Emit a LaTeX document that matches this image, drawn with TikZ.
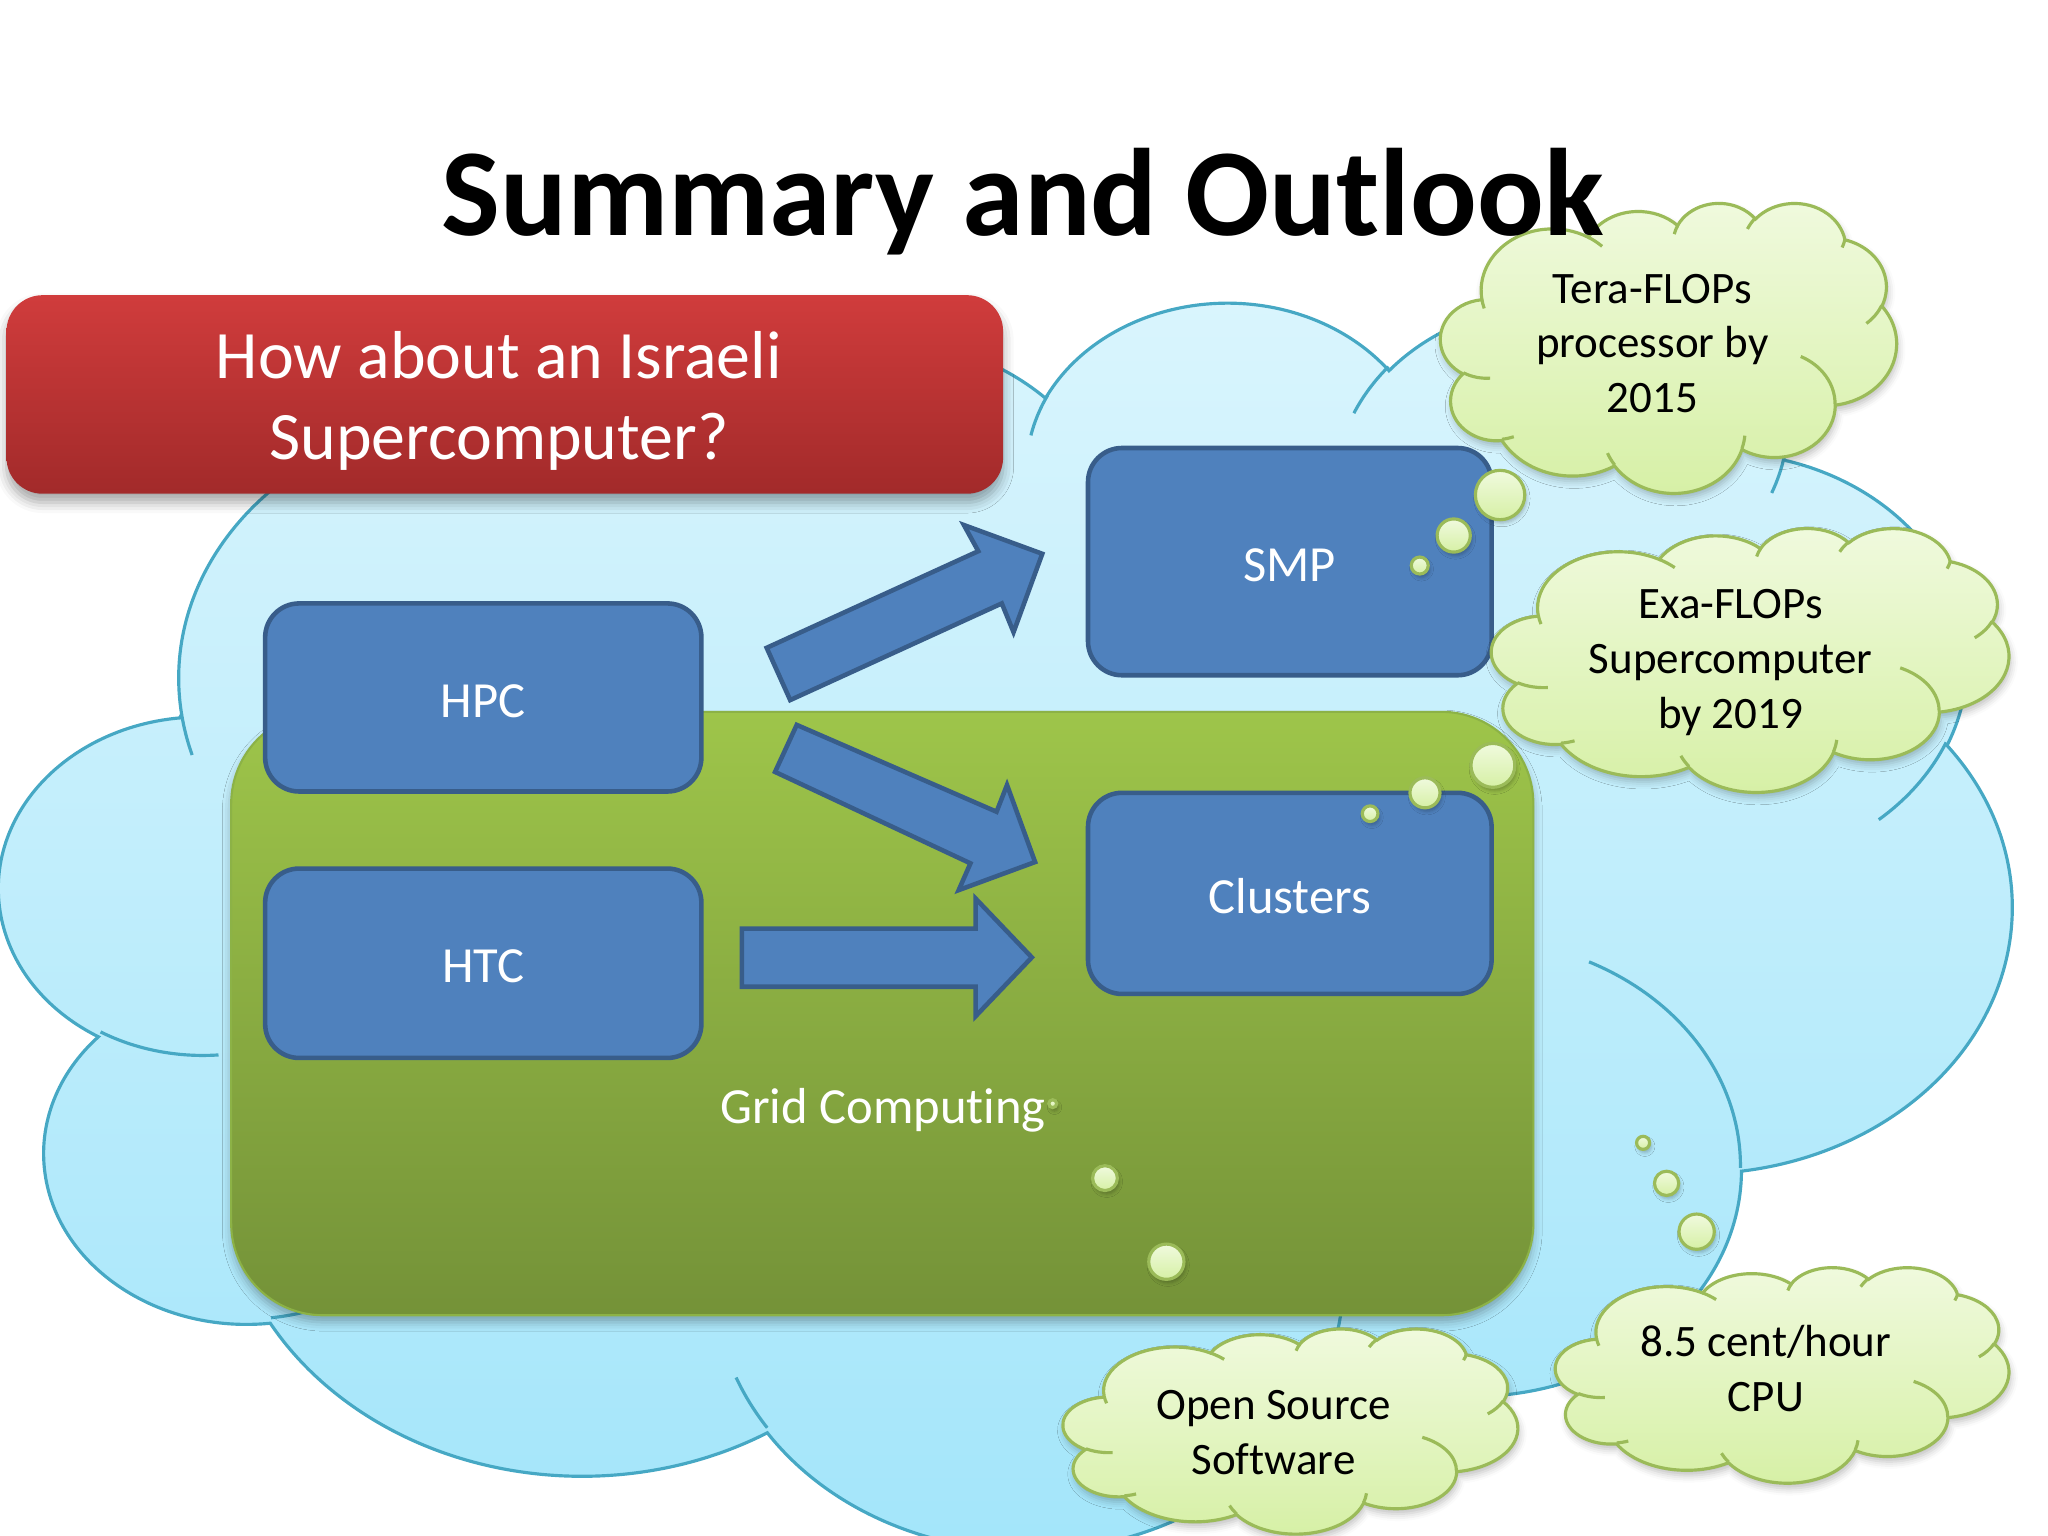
\documentclass[tikz,border=0pt]{standalone}
\usepackage{fontspec}
\setmainfont[Ligatures=NoCommon]{Carlito}
\usetikzlibrary{shadows.blur}

\definecolor{cloudblueT}{RGB}{218,245,253}
\definecolor{cloudblueB}{RGB}{162,229,250}
\definecolor{cloudblueL}{RGB}{70,168,196}
\definecolor{boxblue}{RGB}{79,129,189}
\definecolor{boxblueL}{RGB}{56,93,138}
\definecolor{gridT}{RGB}{158,197,74}
\definecolor{gridB}{RGB}{116,146,56}
\definecolor{gridL}{RGB}{140,178,70}
\definecolor{redT}{RGB}{208,60,60}
\definecolor{redB}{RGB}{162,42,42}
\definecolor{thT}{RGB}{240,250,222}
\definecolor{thB}{RGB}{214,240,165}
\definecolor{thL}{RGB}{155,187,89}

% PowerPoint cloud outline in a 432 x 432 frame (y downwards)
\newcommand\cloudoutline{(39.00,143.70)
 arc[carc={67.53}{91.90}{-190.4875}{123.7805}]
 arc[carc={53.33}{72.67}{-144.1024}{89.9452}]
 arc[carc={43.65}{59.45}{-145.8079}{99.7230}]
 arc[carc={48.57}{65.95}{-130.9861}{117.2417}]
 arc[carc={53.33}{72.73}{-78.7089}{109.0269}]
 arc[carc={67.75}{92.20}{-46.2673}{130.2690}]
 arc[carc={57.85}{78.67}{0.6250}{114.0333}]
 arc[carc={67.52}{92.15}{22.4516}{115.1726}]
 arc[carc={77.20}{105.43}{66.2426}{75.7110}]
 arc[carc={43.60}{59.18}{-274.9421}{146.7356}]
 arc[carc={43.45}{59.45}{-246.8285}{152.5189}] -- cycle}
\newcommand\cloudinner{(46.93,261.77) arc[carc={43.45}{59.45}{86.7420}{26.4295}]
 (69.28,348.99) arc[carc={43.60}{59.18}{73.6105}{11.4475}]
 (164.78,390.90) arc[carc={67.52}{92.15}{137.6242}{14.0811}]
 (288.27,347.51) arc[carc={67.52}{92.15}{6.4533}{15.9984}]
 (341.29,229.54) arc[carc={57.85}{78.67}{-70.2924}{70.9174}]
 (417.98,153.54) arc[carc={53.33}{72.73}{30.3180}{27.7515}]
 (383.24,54.26) arc[carc={48.57}{65.95}{13.7443}{14.8589}]
 (290.78,39.52) arc[carc={48.57}{65.95}{-149.1815}{18.1954}]
 (221.41,47.20) arc[carc={43.65}{59.45}{-163.4943}{17.6864}]
 (140.00,51.92) arc[carc={67.53}{91.90}{-66.7070}{12.3194}]
 (41.27,157.89) arc[carc={67.53}{91.90}{157.6544}{11.8582}]}

\tikzset{
 carc/.style n args={4}{x radius=#1, y radius=#2,
   start angle={atan2(#1*sin(#3),#2*cos(#3))},
   delta angle={Mod(atan2(#1*sin(#3+#4),#2*cos(#3+#4))-atan2(#1*sin(#3),#2*cos(#3)),360)}},
 bluebox/.style={draw=boxblueL, line width=1.3pt, fill=boxblue, rounded corners=0.34cm,
   inner sep=0pt, text=white, font=\fontsize{14.4}{17}\selectfont,
   text height=11.2pt, text depth=0pt},
 blockarrow/.style={draw=boxblueL, line width=1.3pt, fill=boxblue, line join=miter},
 redbox/.style={top color=redT, bottom color=redB, rounded corners=0.36cm, inner sep=0pt,
   blur shadow={shadow xshift=0pt, shadow yshift=-2.5pt, shadow blur radius=3pt, shadow opacity=35}},
 redtext/.style={text=white, align=center, font=\fontsize{19.3}{23.2}\selectfont},
 gridbox/.style={top color=gridT, bottom color=gridB, draw=gridL, line width=0.6pt,
   rounded corners=0.92cm, inner sep=0pt,
   blur shadow={shadow xshift=0pt, shadow yshift=-2pt, shadow blur radius=2.5pt, shadow opacity=30}},
 gridtext/.style={text=white, font=\fontsize{14.4}{17}\selectfont},
 cloudtext/.style={text=black, align=center, font=\fontsize{12.8}{15.6}\selectfont},
 thoughtfill/.style={top color=thT, bottom color=thB, draw=thL, line width=0.9pt,
   blur shadow={shadow xshift=0.5pt, shadow yshift=-1.5pt, shadow blur radius=2pt, shadow opacity=25}},
 bubble/.style={top color=thT, bottom color=thB, draw=thL, line width=0.9pt,
   blur shadow={shadow xshift=0.5pt, shadow yshift=-1pt, shadow blur radius=1pt, shadow opacity=25}},
}

\newcommand\thoughtcloud[4]{%
 \begin{scope}[shift={(#1,#2)}, xscale=#3/432, yscale=#4/432]
  \path[thoughtfill] \cloudoutline;
  \draw[thL, line width=0.9pt] \cloudinner;
 \end{scope}}

\begin{document}
\begin{tikzpicture}[x=0.0130612cm, y=-0.0130612cm]
\useasboundingbox (0,0) rectangle (1568,1176);
\clip (0,0) rectangle (1568,1176);

% big blue cloud
\begin{scope}[shift={(0,229)}, xscale=1540/432, yscale=955/432]
 \path[top color=cloudblueT, bottom color=cloudblueB, draw=cloudblueL, line width=0.9pt] \cloudoutline;
 \draw[cloudblueL, line width=0.9pt] \cloudinner;
\end{scope}

% red box
\node[redbox, minimum width=9.9657cm, minimum height=1.9853cm] (ask) at (386.5,302) {};
\node[redtext] (asktext) at (382,307) {How about an Israeli\\Supercomputer?};

% grid computing area
\node[gridbox, minimum width=13.022cm, minimum height=6.0343cm] (grid) at (675.5,776) {};
\node[gridtext, anchor=base] (gridlabel) at (676,860) {Grid Computing};

% blue boxes
\node[bluebox, minimum width=4.3624cm, minimum height=1.8808cm] (hpc) at (370,534) {HPC};
\node[bluebox, minimum width=4.3624cm, minimum height=1.8939cm] (htc) at (370,737.5) {HTC};
\node[bluebox, minimum width=4.0359cm, minimum height=2.2726cm] (smp) at (987.5,430) {SMP};
\node[bluebox, minimum width=4.0359cm, minimum height=2.0114cm] (clusters) at (987.5,684) {Clusters};

% block arrows
\draw[blockarrow] (587,496) -- (749,422) -- (738,402) -- (798,424) -- (776,484) -- (767,462) -- (605,536) -- cycle;
\draw[blockarrow] (610,555) -- (763,621.5) -- (771,601) -- (792.5,660) -- (734,681.5) -- (743,661) -- (593.4,591) -- cycle;
\draw[blockarrow] (568,711) -- (747,711) -- (747,688) -- (790,733) -- (747,778) -- (747,755.5) -- (568,755.5) -- cycle;

% thought clouds
\thoughtcloud{1103}{155}{349}{222}
\thoughtcloud{1142}{404}{396}{202}
\thoughtcloud{814}{1017}{348}{157}
\thoughtcloud{1191}{970}{347}{165}

% bubbles
\path[bubble] (1148.5,379) circle[radius=18.9];
\path[bubble] (1113,410) circle[radius=12.7];
\path[bubble] (1087,433) circle[radius=6.5];
\path[bubble] (1143,586) circle[radius=16.8];
\path[bubble] (1091,607) circle[radius=11.5];
\path[bubble] (1049,623) circle[radius=6];
\path[bubble] (893,966) circle[radius=13.5];
\path[bubble] (846,902) circle[radius=9.5];
\path[bubble] (806,845) circle[radius=3];
\path[bubble] (1299,943) circle[radius=13.5];
\path[bubble] (1276,906) circle[radius=9.3];
\path[bubble] (1258,875) circle[radius=5];

% cloud texts
\node[cloudtext] (tera) at (1265,263) {Tera-FLOPs\\processor by\\2015};
\node[cloudtext] (exa) at (1325,507) {Exa-FLOPs\\Supercomputer\\by 2019};
\node[cloudtext] (oss) at (975,1097) {Open Source\\Software};
\node[cloudtext] (cpu) at (1352,1048) {8.5 cent/hour\\CPU};

% title
\node[anchor=base, font=\fontsize{35.4}{42}\selectfont\bfseries] (title) at (783,180) {Summary and Outlook};
\end{tikzpicture}
\end{document}
